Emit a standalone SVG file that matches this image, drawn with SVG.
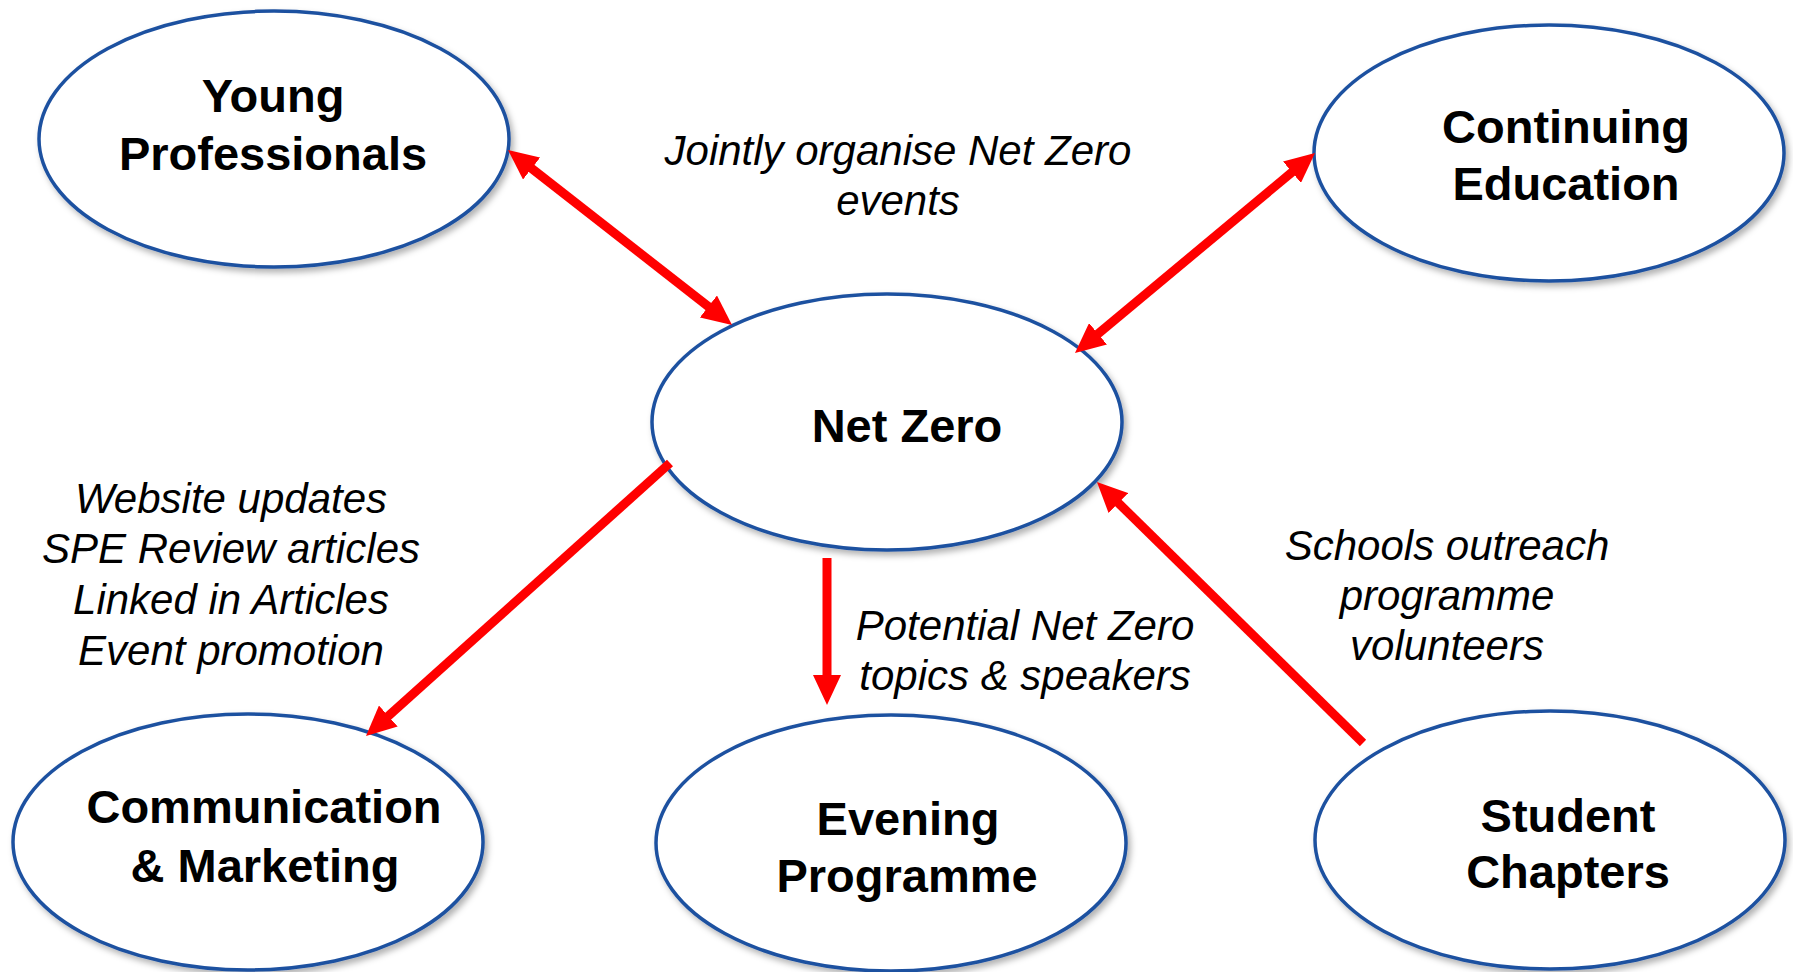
<svg xmlns="http://www.w3.org/2000/svg" width="1793" height="972" viewBox="0 0 1793 972">
<style>
.node{fill:#fff;stroke:#1F51A0;stroke-width:3.5;filter:url(#sh)}
.t{font-family:"Liberation Sans",Arial,sans-serif;font-weight:bold;font-size:47px;fill:#000;text-anchor:middle}
.l{font-family:"Liberation Sans",Arial,sans-serif;font-style:italic;font-size:42px;fill:#000;text-anchor:middle}
.c{stroke:#FF0000;stroke-width:9;fill:none}
</style>
<defs>
<filter id="sh" x="-10%" y="-10%" width="125%" height="130%">
<feDropShadow dx="3" dy="4" stdDeviation="3" flood-color="#000" flood-opacity="0.3"/>
</filter>
<marker id="ah" viewBox="0 0 30 28" refX="5" refY="14" markerWidth="30" markerHeight="28" markerUnits="userSpaceOnUse" orient="auto-start-reverse">
<path d="M0,0 L30,14 L0,28 z" fill="#FF0000"/>
</marker>
</defs>
<g id="young-professionals">
<ellipse class="node" cx="274" cy="139" rx="235" ry="128"/>
<text class="t" x="273" y="112">Young</text>
<text class="t" x="273" y="170">Professionals</text>
</g>
<g id="continuing-education">
<ellipse class="node" cx="1549" cy="153" rx="235" ry="128"/>
<text class="t" x="1566" y="143">Continuing</text>
<text class="t" x="1566" y="200">Education</text>
</g>
<g id="net-zero">
<ellipse class="node" cx="887" cy="422" rx="235" ry="128"/>
<text class="t" x="907" y="442">Net Zero</text>
</g>
<g id="communication-marketing">
<ellipse class="node" cx="248" cy="842" rx="235" ry="128"/>
<text class="t" x="264" y="823">Communication</text>
<text class="t" x="265" y="882">&amp; Marketing</text>
</g>
<g id="evening-programme">
<ellipse class="node" cx="891" cy="843" rx="235" ry="128"/>
<text class="t" x="908" y="835">Evening</text>
<text class="t" x="907" y="892">Programme</text>
</g>
<g id="student-chapters">
<ellipse class="node" cx="1550" cy="840" rx="235" ry="129"/>
<text class="t" x="1568" y="832">Student</text>
<text class="t" x="1568" y="888">Chapters</text>
</g>
<g id="connectors">
<line class="c" x1="527.7" y1="165.4" x2="712.3" y2="309.6" marker-start="url(#ah)" marker-end="url(#ah)"/>
<line class="c" x1="1295.8" y1="169" x2="1094.2" y2="337" marker-start="url(#ah)" marker-end="url(#ah)"/>
<line class="c" x1="670" y1="463" x2="384.6" y2="719.3" marker-end="url(#ah)"/>
<line class="c" x1="827" y1="558" x2="827" y2="680" marker-end="url(#ah)"/>
<line class="c" x1="1363" y1="743" x2="1114.8" y2="499.5" marker-end="url(#ah)"/>
</g>
<g id="labels">
<text class="l" x="898" y="165">Jointly organise Net Zero</text>
<text class="l" x="898" y="215">events</text>
<text class="l" x="231" y="513">Website updates</text>
<text class="l" x="231" y="563">SPE Review articles</text>
<text class="l" x="231" y="614">Linked in Articles</text>
<text class="l" x="231" y="665">Event promotion</text>
<text class="l" x="1025" y="640">Potential Net Zero</text>
<text class="l" x="1025" y="690">topics &amp; speakers</text>
<text class="l" x="1447" y="560">Schools outreach</text>
<text class="l" x="1447" y="610">programme</text>
<text class="l" x="1447" y="660">volunteers</text>
</g>
</svg>
